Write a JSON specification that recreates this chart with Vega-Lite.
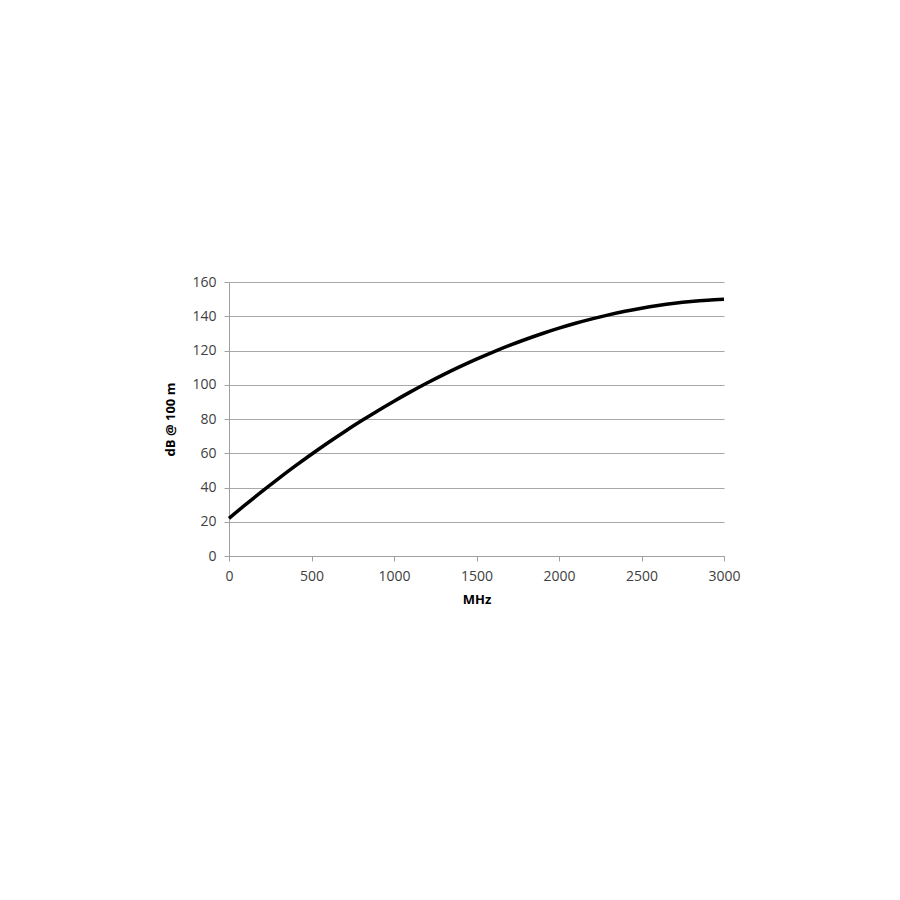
{
  "$schema": "https://vega.github.io/schema/vega-lite/v6.json",
  "width": 495,
  "height": 274,
  "autosize": {"type": "none"},
  "padding": {"left": 229, "top": 282, "right": 176, "bottom": 344},
  "background": "white",
  "config": {
    "view": {"stroke": null},
    "font": "Open Sans",
    "axis": {
      "labelFont": "Open Sans",
      "titleFont": "Open Sans",
      "labelColor": "#404040",
      "titleColor": "#000000",
      "labelFontSize": 14,
      "titleFontSize": 13,
      "titleFontWeight": "bold",
      "domainColor": "#a0a0a0",
      "tickColor": "#a0a0a0",
      "gridColor": "#a8a8a8",
      "gridWidth": 1.2,
      "labelFlush": false
    }
  },
  "data": {
    "values": [
      {"MHz": 0, "dB": 22.0},
      {"MHz": 100, "dB": 30.0},
      {"MHz": 200, "dB": 37.74},
      {"MHz": 300, "dB": 45.23},
      {"MHz": 400, "dB": 52.46},
      {"MHz": 500, "dB": 59.43},
      {"MHz": 600, "dB": 66.14},
      {"MHz": 700, "dB": 72.59},
      {"MHz": 800, "dB": 78.79},
      {"MHz": 900, "dB": 84.73},
      {"MHz": 1000, "dB": 90.41},
      {"MHz": 1100, "dB": 95.83},
      {"MHz": 1200, "dB": 101.0},
      {"MHz": 1300, "dB": 105.91},
      {"MHz": 1400, "dB": 110.56},
      {"MHz": 1500, "dB": 114.95},
      {"MHz": 1600, "dB": 119.08},
      {"MHz": 1700, "dB": 122.96},
      {"MHz": 1800, "dB": 126.58},
      {"MHz": 1900, "dB": 129.94},
      {"MHz": 2000, "dB": 133.04},
      {"MHz": 2100, "dB": 135.89},
      {"MHz": 2200, "dB": 138.47},
      {"MHz": 2300, "dB": 140.8},
      {"MHz": 2400, "dB": 142.87},
      {"MHz": 2500, "dB": 144.69},
      {"MHz": 2600, "dB": 146.24},
      {"MHz": 2700, "dB": 147.54},
      {"MHz": 2800, "dB": 148.58},
      {"MHz": 2900, "dB": 149.37},
      {"MHz": 3000, "dB": 149.89}
    ]
  },
  "mark": {"type": "line", "color": "#000000", "strokeWidth": 3.5, "interpolate": "monotone"},
  "encoding": {
    "x": {
      "field": "MHz",
      "type": "quantitative",
      "scale": {"domain": [0, 3000], "nice": false},
      "axis": {
        "title": "MHz",
        "format": "d",
        "values": [0, 500, 1000, 1500, 2000, 2500, 3000],
        "grid": false,
        "tickSize": 5,
        "labelPadding": 8,
        "titlePadding": 10
      }
    },
    "y": {
      "field": "dB",
      "type": "quantitative",
      "scale": {"domain": [0, 160], "nice": false},
      "axis": {
        "title": "dB @ 100 m",
        "values": [0, 20, 40, 60, 80, 100, 120, 140, 160],
        "grid": true,
        "tickSize": 5,
        "labelPadding": 8,
        "titlePadding": 14
      }
    }
  }
}
